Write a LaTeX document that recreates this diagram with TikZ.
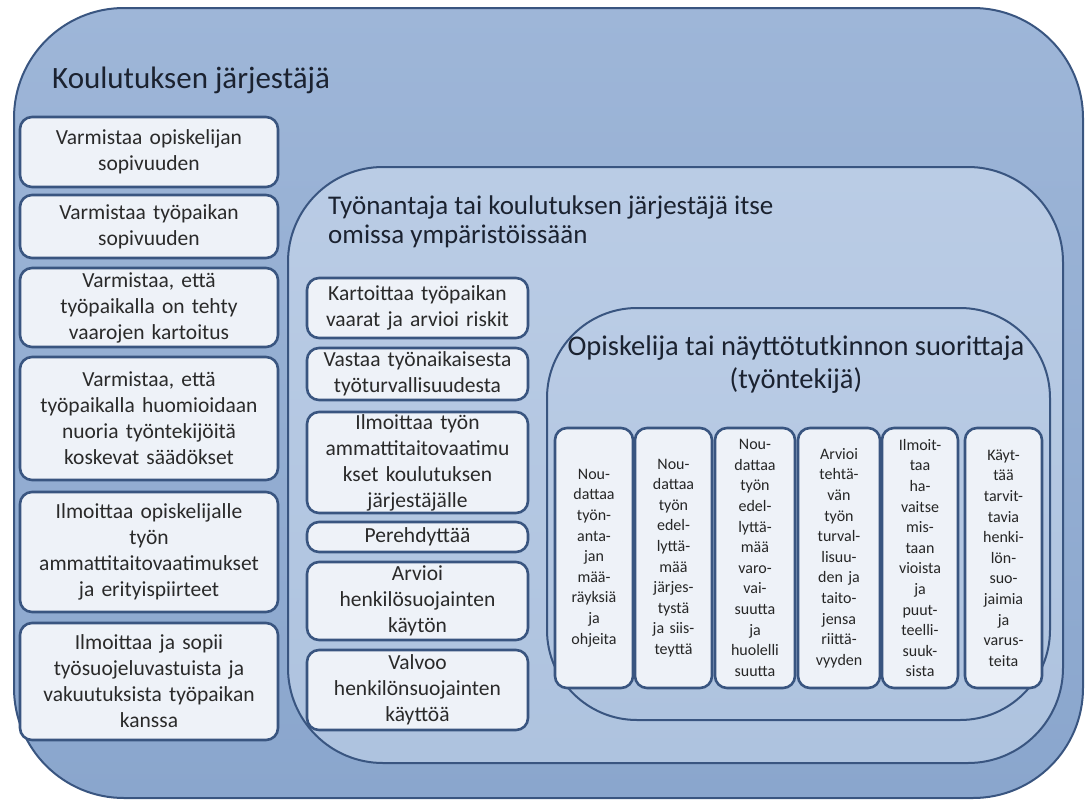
\documentclass[tikz,border=0pt]{standalone}
\usepackage{fontspec}
\setmainfont{Carlito}
\definecolor{bord}{HTML}{395580}
\definecolor{outerA}{HTML}{9EB6D8}
\definecolor{outerB}{HTML}{8AA6CD}
\definecolor{midA}{HTML}{BACCE5}
\definecolor{midB}{HTML}{AEC3DF}
\definecolor{boxfill}{HTML}{EEF2F8}
\definecolor{txt}{HTML}{2A2A2A}
\definecolor{ttl}{HTML}{1B2230}
\newcommand{\lfont}{\fontsize{21.5}{26}\selectfont}
\newcommand{\tfont}{\fontsize{16}{20.6}\selectfont}
\tikzset{
  container/.style={draw=bord, line width=2pt},
  itembox/.style={draw=bord, line width=2.6pt, fill=boxfill, rounded corners=12pt,
    align=center, inner sep=0pt, text=txt},
  leftbox/.style={itembox, minimum width=258pt, text width=254pt, font=\lfont},
  midbox/.style={itembox, minimum width=221pt, text width=218pt, font=\lfont},
  tallbox/.style={itembox, minimum height=260pt, text width=76pt, font=\tfont, text=black!85},
  title/.style={text=ttl, inner sep=0pt}
}
\begin{document}
\begin{tikzpicture}[x=1pt,y=-1pt]
\useasboundingbox (0,0) rectangle (1085,801);
% outer container
\path[container, rounded corners=110pt, top color=outerA, bottom color=outerB]
  (14,8) rectangle (1083,798);
\node[title, anchor=base west, font=\fontsize{31}{36}\selectfont] (t1) at (52,88) {Koulutuksen järjestäjä};
% left column
\node[leftbox, minimum height=70pt] (l1) at (149,152) {Varmistaa opiskelijan\\sopivuuden};
\node[leftbox, minimum height=63pt] (l2) at (149,226.5) {Varmistaa työpaikan\\sopivuuden};
\node[leftbox, minimum height=79pt] (l3) at (149,307.5) {Varmistaa, että\\työpaikalla on tehty\\vaarojen kartoitus};
\node[leftbox, minimum height=123pt] (l4) at (149,418.5) {Varmistaa, että\\työpaikalla huomioidaan\\nuoria työntekijöitä\\koskevat säädökset};
\node[leftbox, minimum height=120pt] (l5) at (149,552) {Ilmoittaa opiskelijalle\\työn\\ammattitaitovaatimukset\\ja erityispiirteet};
\node[leftbox, minimum height=117pt] (l6) at (149,681.5) {Ilmoittaa ja sopii\\työsuojeluvastuista ja\\vakuutuksista työpaikan\\kanssa};
% middle container
\path[container, rounded corners=95pt, top color=midA, bottom color=midB]
  (288,167) rectangle (1063,763);
\node[title, anchor=base west, align=left, font=\fontsize{27}{29}\selectfont] (t2) at (328,243) {Työnantaja tai koulutuksen järjestäjä itse\\omissa ympäristöissään};
\node[midbox, minimum height=60pt] (m1) at (417.5,308) {Kartoittaa työpaikan\\vaarat ja arvioi riskit};
\node[midbox, minimum height=52pt] (m2) at (417.5,374) {Vastaa työnaikaisesta\\työturvallisuudesta};
\node[midbox, minimum height=101pt] (m3) at (417.5,462.5) {Ilmoittaa työn\\ammattitaitovaatimu\\kset koulutuksen\\järjestäjälle};
\node[midbox, minimum height=30pt] (m4) at (417.5,537) {Perehdyttää};
\node[midbox, minimum height=78pt] (m5) at (417.5,601) {Arvioi\\henkilösuojainten\\käytön};
\node[midbox, minimum height=80pt] (m6) at (417.5,690) {Valvoo\\henkilönsuojainten\\käyttöä};
% inner container
\path[container, rounded corners=90pt, top color=midA, bottom color=midB]
  (547,308) rectangle (1050,720);
\node[title, anchor=base, align=center, font=\fontsize{28.5}{33}\selectfont] (t3) at (796,388) {Opiskelija tai näyttötutkinnon suorittaja\\(työntekijä)};
\node[tallbox, minimum width=78pt] (s1) at (594,558) {Nou-\\dattaa\\työn-\\anta-\\jan\\mää-\\räyksiä\\ja\\ohjeita};
\node[tallbox, minimum width=77pt] (s2) at (673.5,558) {Nou-\\dattaa\\työn\\edel-\\lyttä-\\mää\\järjes-\\tystä\\ja siis-\\teyttä};
\node[tallbox, minimum width=80pt] (s3) at (755,558) {Nou-\\dattaa\\työn\\edel-\\lyttä-\\mää\\varo-\\vai-\\suutta\\ja\\huolelli\\suutta};
\node[tallbox, minimum width=82pt] (s4) at (839,558) {Arvioi\\tehtä-\\vän\\työn\\turval-\\lisuu-\\den ja\\taito-\\jensa\\riittä-\\vyyden};
\node[tallbox, minimum width=76pt] (s5) at (920,558) {Ilmoit-\\taa\\ha-\\vaitse\\mis-\\taan\\vioista\\ja\\puut-\\teelli-\\suuk-\\sista};
\node[tallbox, minimum width=77pt] (s6) at (1003.5,558) {Käyt-\\tää\\tarvit-\\tavia\\henki-\\lön-\\suo-\\jaimia\\ja\\varus-\\teita};
\end{tikzpicture}
\end{document}
